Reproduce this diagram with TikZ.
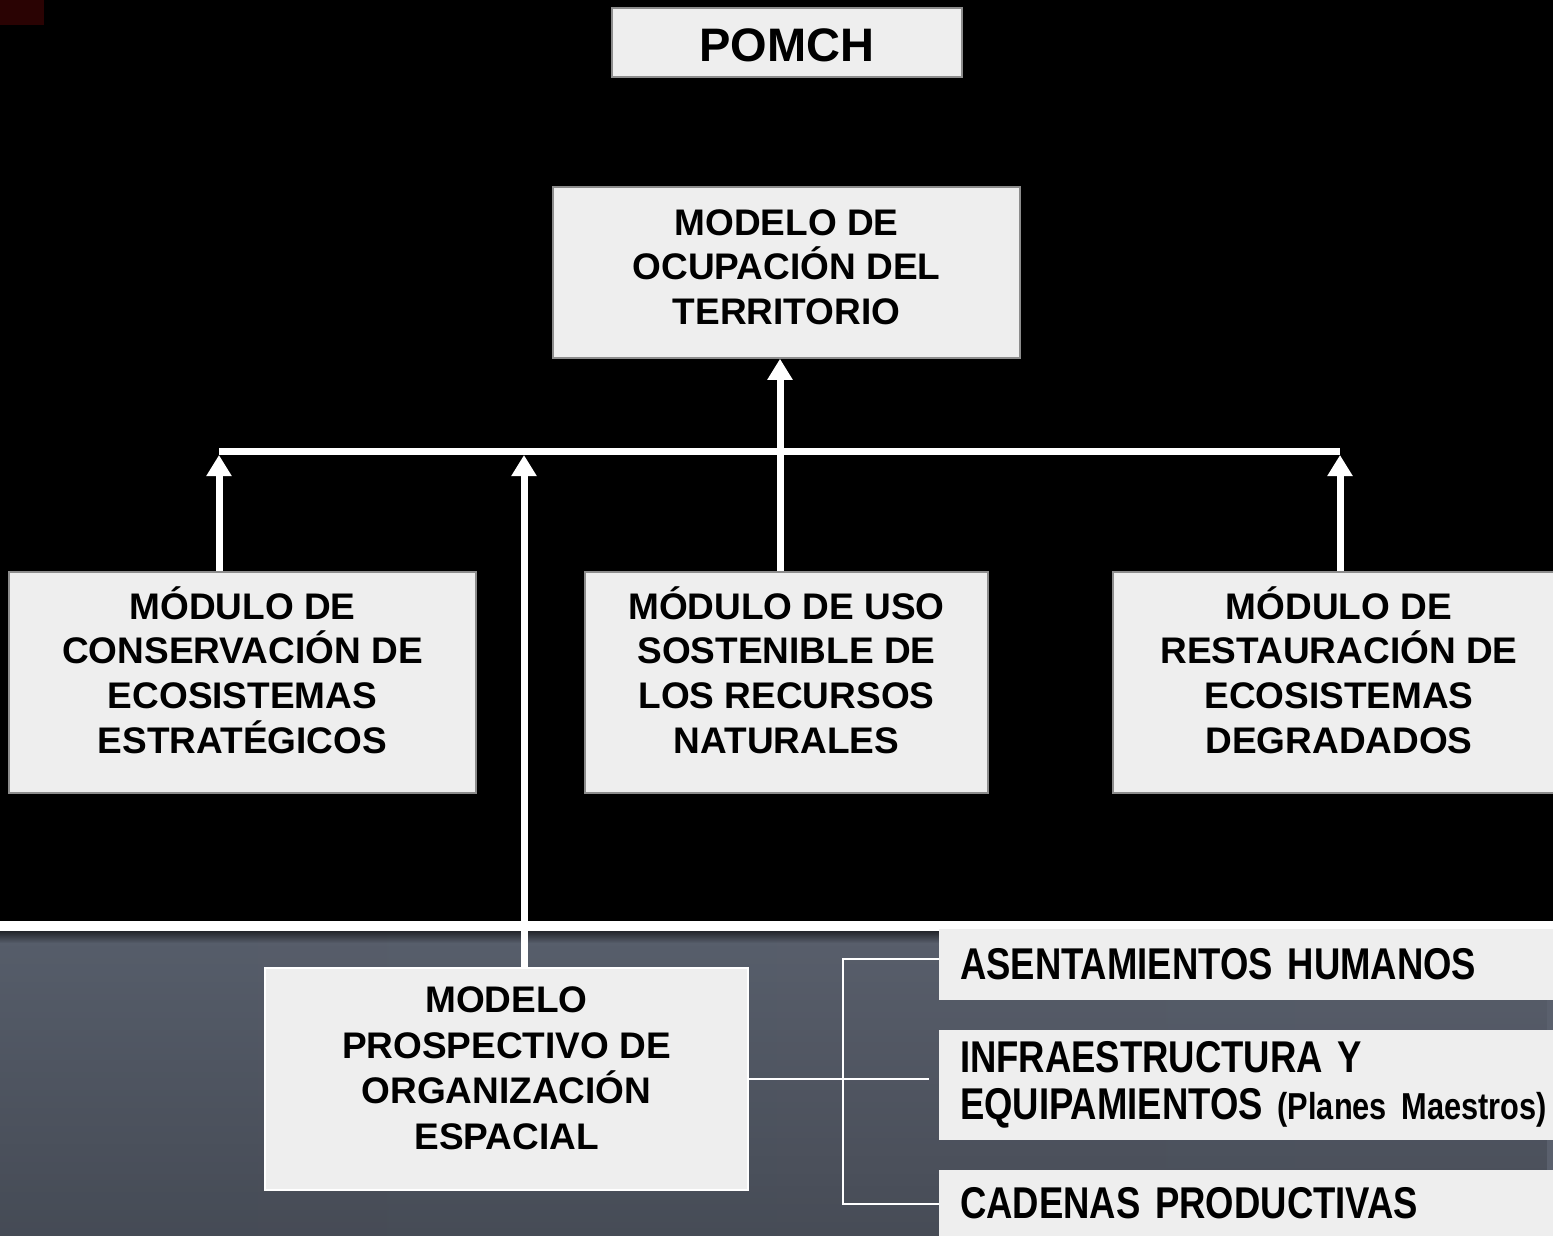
\documentclass[tikz,border=0pt]{standalone}
\usepackage{fontspec}
\setmainfont{Liberation Sans}
\newfontfamily\narrowfont[FakeStretch=0.82,WordSpace=0.7]{Liberation Sans}
\usetikzlibrary{arrows.meta,fadings}
\definecolor{boxgray}{HTML}{EEEEEE}
\definecolor{rimgray}{HTML}{8C8C8C}
\definecolor{bandleft}{HTML}{575E6B}
\definecolor{bandmid}{HTML}{6D7381}
\definecolor{bandright}{HTML}{5A606D}
\definecolor{cornerred}{HTML}{2A0303}

\begin{document}
\begin{tikzpicture}[x=1pt,y=-1pt,
    caja/.style={draw=rimgray,line width=1.5pt,fill=boxgray,inner sep=0pt},
    texto/.style={align=center,font=\fontsize{37}{44.7}\selectfont\bfseries},
    tira/.style={fill=boxgray,inner xsep=21pt,inner ysep=0pt,text width=619pt,align=left,
      minimum width=661pt,font=\narrowfont\fontsize{44.5}{47}\selectfont\bfseries},
    sube/.style={white,line width=7pt,-{Triangle[length=21pt,width=24pt]}},
    barra/.style={white,line width=7pt},
    rama/.style={white,line width=2pt}]
  \useasboundingbox (0,0) rectangle (1553,1236);
  %FONDO
  \fill[black] (0,0) rectangle (1553,1236);
  \fill[cornerred] (0,0) rectangle (44,25);
  \fill[white] (0,921) rectangle (1553,931);
  \shade[left color=bandleft,middle color=bandmid,right color=bandright] (0,931) rectangle (1553,1236);
  \fill[black,opacity=0.2,path fading=north] (0,931) rectangle (1553,1236);
  \fill[black,opacity=0.6,path fading=south] (0,931) rectangle (1553,943);

  %CAJAS
  \node[caja,minimum width=350pt,minimum height=69pt] (pomch) at (787,42.5) {};
  \node[texto,font=\fontsize{47}{50}\selectfont\bfseries] at ([yshift=-2.5pt]pomch.center) {POMCH};
  \node[caja,minimum width=467pt,minimum height=171pt] (ocup) at (786.5,272.5) {};
  \node[caja,minimum width=467pt,minimum height=221pt] (cons) at (242.5,682.5) {};
  \node[caja,minimum width=403pt,minimum height=221pt] (uso) at (786.5,682.5) {};
  \node[caja,minimum width=452pt,minimum height=221pt] (rest) at (1339,682.5) {};
  \node[caja,draw=white,line width=2pt,minimum width=483pt,minimum height=222pt] (prosp) at (506.5,1079) {};

  \node[texto] at ([yshift=5.5pt]ocup.center) {MODELO DE\\OCUPACIÓN DEL\\TERRITORIO};
  \node[texto] at ([yshift=12.5pt]cons.center) {MÓDULO DE\\CONSERVACIÓN DE\\ECOSISTEMAS\\ESTRATÉGICOS};
  \node[texto] at ([yshift=12.5pt]uso.center) {MÓDULO DE USO\\SOSTENIBLE DE\\LOS RECURSOS\\NATURALES};
  \node[texto] at ([yshift=12.5pt]rest.center) {MÓDULO DE\\RESTAURACIÓN DE\\ECOSISTEMAS\\DEGRADADOS};
  \node[texto,font=\fontsize{37}{45.5}\selectfont\bfseries] at ([yshift=10.5pt]prosp.center) {MODELO\\PROSPECTIVO DE\\ORGANIZACIÓN\\ESPACIAL};

  \node[tira,minimum height=71pt] (asent) at (1269.5,964.5) {ASENTAMIENTOS HUMANOS};
  \node[tira,minimum height=110pt] (infra) at (1269.5,1085) {INFRAESTRUCTURA Y\\EQUIPAMIENTOS {\fontsize{37.5}{47}\selectfont(Planes Maestros)}};
  \node[tira,minimum height=66pt] (cad) at (1269.5,1203) {CADENAS PRODUCTIVAS};

  %FLECHAS
  \coordinate (b1) at (219,451);
  \coordinate (b2) at (524,451);
  \coordinate (b3) at (780,451);
  \coordinate (b4) at (1340,451);
  \draw[barra] (b1) -- (b4);
  \draw[sube] (cons.north -| b1) -- ([yshift=-4pt]b1);
  \draw[sube] (prosp.north -| b2) -- ([yshift=-4pt]b2);
  \draw[sube] (uso.north -| b3) -- (ocup.south -| b3);
  \draw[sube] (rest.north -| b4) -- ([yshift=-4pt]b4);

  %LLAVE
  \coordinate (k1) at (843,959);
  \coordinate (k2) at (843,1204);
  \draw[rama] (asent.west |- k1) -- (k1) -- (k2) -- (cad.west |- k2);
  \draw[rama] (prosp.east) -- ([xshift=-10pt]infra.west |- prosp.east);
\end{tikzpicture}
\end{document}
